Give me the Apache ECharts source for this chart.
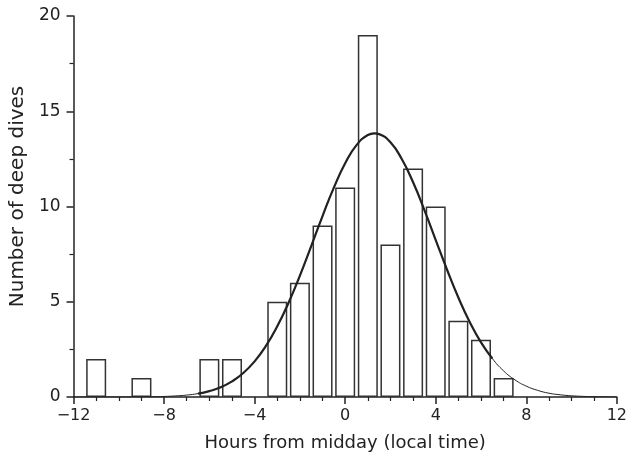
<!DOCTYPE html>
<html>
<head>
<meta charset="utf-8">
<script src="https://cdn.jsdelivr.net/npm/echarts@6/dist/echarts.min.js"></script>
<style>html,body{margin:0;padding:0;background:#fff}#c{width:630px;height:457px}</style>
</head>
<body>
<div id="c"></div>
<script>
// Histogram: hour (bin centre) and number of deep dives
var hours = [-11, -9, -6, -5, -3, -2, -1, 0, 1, 2, 3, 4, 5, 6, 7];
var counts = [2, 1, 2, 2, 5, 6, 9, 11, 19, 8, 12, 10, 4, 3, 1];

// Fitted curve
var curveX = [-12, -11, -10, -9.5, -9, -8.5, -8, -7.5, -7, -6.5, -6, -5.5, -5, -4.5, -4, -3.5, -3, -2.5, -2, -1.5, -1, -0.5, 0, 0.5, 1, 1.3, 1.5, 2, 2.5, 3, 3.5, 4, 4.5, 5, 5.5, 6, 6.5, 7, 7.5, 8, 8.5, 9, 9.5, 10, 10.5, 11, 11.5, 12];
var curveY = [0.0001, 0.0003, 0.0016, 0.0034, 0.0072, 0.015, 0.029, 0.056, 0.10, 0.18, 0.31, 0.51, 0.82, 1.26, 1.87, 2.68, 3.71, 4.95, 6.37, 7.92, 9.50, 10.99, 12.27, 13.22, 13.75, 13.84, 13.80, 13.37, 12.49, 11.27, 9.81, 8.24, 6.68, 5.22, 3.94, 2.87, 2.02, 1.37, 0.90, 0.57, 0.35, 0.20, 0.115, 0.063, 0.033, 0.017, 0.008, 0.004];

var xTicks = ['\u221212', '\u22128', '\u22124', '0', '4', '8', '12'];
var yTicks = ['0', '5', '10', '15', '20'];

var thickFrom = -6.5, thickTo = 6.5;

var barData = hours.map(function (h, i) { return [h, counts[i]]; });
var thinData = curveX.map(function (x, i) { return [x, curveY[i]]; });
var thickData = thinData.filter(function (p) { return p[0] >= thickFrom && p[0] <= thickTo; });

var FONT = 'DejaVu Sans, sans-serif';
var chart = echarts.init(document.getElementById('c'), null, {renderer: 'canvas'});
chart.setOption({
  animation: false,
  backgroundColor: '#fff',
  grid: {left: 73, right: 12, top: 16, bottom: 60},
  xAxis: {
    type: 'value', min: -12, max: 12, interval: 4,
    name: 'Hours from midday (local time)', nameLocation: 'middle', nameGap: 37,
    nameTextStyle: {fontFamily: FONT, fontSize: 18, color: '#222'},
    axisLine: {onZero: false, lineStyle: {color: '#222', width: 1.5}},
    axisTick: {length: 7, lineStyle: {color: '#222', width: 1.5}},
    minorTick: {show: true, splitNumber: 4, length: 4, lineStyle: {color: '#222', width: 1.2}},
    splitLine: {show: false},
    axisLabel: {
      fontFamily: FONT, fontSize: 16, color: '#222', margin: 11,
      formatter: function (v) { return xTicks[Math.round((v + 12) / 4)]; }
    }
  },
  yAxis: {
    type: 'value', min: 0, max: 20, interval: 5,
    name: 'Number of deep dives', nameLocation: 'middle', nameGap: 44,
    nameTextStyle: {fontFamily: FONT, fontSize: 20, color: '#222', padding: [0, 0, 0, 20]},
    axisLine: {show: true, onZero: false, lineStyle: {color: '#222', width: 1.5}},
    axisTick: {show: true, length: 7, lineStyle: {color: '#222', width: 1.5}},
    minorTick: {show: true, splitNumber: 2, length: 4, lineStyle: {color: '#222', width: 1.2}},
    splitLine: {show: false},
    axisLabel: {
      fontFamily: FONT, fontSize: 17, color: '#222', margin: 13,
      formatter: function (v) { return yTicks[Math.round(v / 5)]; }
    }
  },
  series: [
    {
      type: 'bar', data: barData, barWidth: 20,
      itemStyle: {color: '#fff', borderColor: '#333', borderWidth: 1.5},
      z: 2
    },
    {
      type: 'line', data: thinData, smooth: true, showSymbol: false,
      lineStyle: {color: '#222', width: 1}, z: 3
    },
    {
      type: 'line', data: thickData, smooth: true, showSymbol: false,
      lineStyle: {color: '#222', width: 2.2}, z: 4
    }
  ]
});
</script>
</body>
</html>
